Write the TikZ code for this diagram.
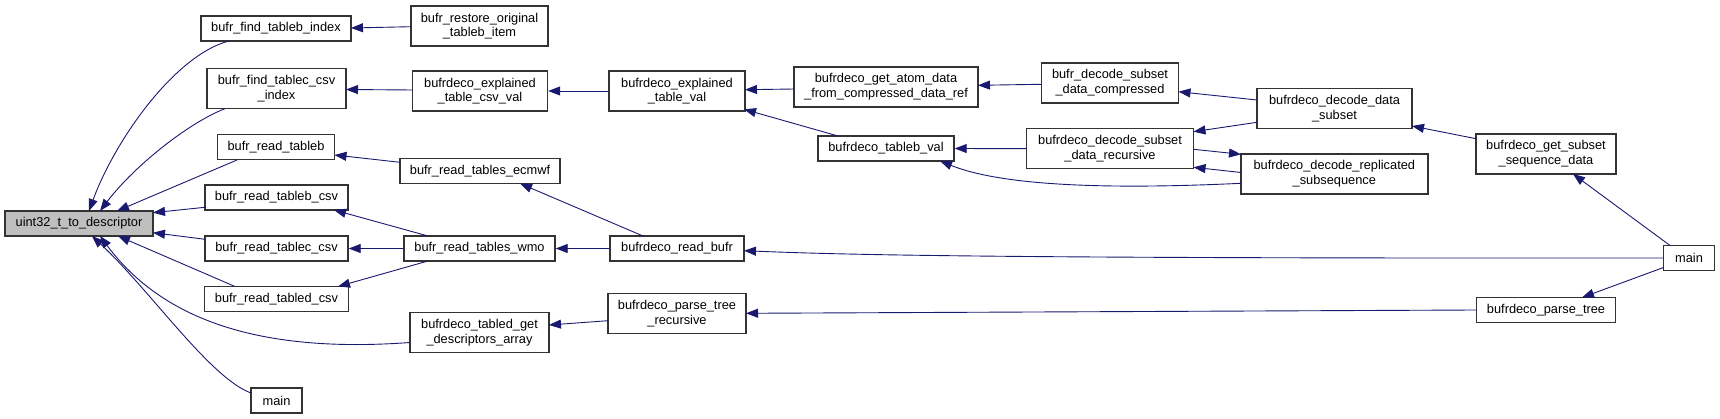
\documentclass[tikz,border=0pt]{standalone}
\usepackage{fontspec}
\setmainfont{Liberation Sans}
\usetikzlibrary{arrows.meta,calc}
\definecolor{edgecol}{HTML}{191970}
\definecolor{nodegrey}{HTML}{BFBFBF}
\definecolor{bordercol}{HTML}{333333}
\begin{document}
\begin{tikzpicture}[x=1pt,y=-1pt,
  box/.style={draw=bordercol, line width=1.4pt, fill=white, inner sep=0pt, align=center,
    font=\fontsize{12.8}{14.7}\selectfont, minimum height=25pt},
  box2/.style={box, minimum height=40pt},
  edge/.style={draw=edgecol, line width=0.9pt, -{Triangle[length=12pt,width=9pt]}},
]
\useasboundingbox (0,0) rectangle (1720,419);

% nodes
\node[box, fill=nodegrey, minimum width=148pt] (uint) at (79,223.5) {uint32\_t\_to\_descriptor};
\node[box, minimum width=150pt] (ftb) at (276,28.5) {bufr\_find\_tableb\_index};
\node[box2, minimum width=137pt] (restore) at (479.5,26) {bufr\_restore\_original\\\_tableb\_item};
\node[box2, minimum width=139pt] (ftc) at (276.5,88.7) {bufr\_find\_tablec\_csv\\\_index};
\node[box2, minimum width=135pt] (etcv) at (480,91) {bufrdeco\_explained\\\_table\_csv\_val};
\node[box, minimum width=117.5pt] (rtb) at (276,147.3) {bufr\_read\_tableb};
\node[box, minimum width=160pt] (ecmwf) at (480,171) {bufr\_read\_tables\_ecmwf};
\node[box, minimum width=143pt] (rtbc) at (276.5,197.5) {bufr\_read\_tableb\_csv};
\node[box, minimum width=143pt] (rtcc) at (276.5,248.5) {bufr\_read\_tablec\_csv};
\node[box, minimum width=151pt] (wmo) at (479.5,248.5) {bufr\_read\_tables\_wmo};
\node[box, minimum width=144pt] (rtdc) at (276.5,299) {bufr\_read\_tabled\_csv};
\node[box2, minimum width=139pt] (tgda) at (479.5,332.7) {bufrdeco\_tabled\_get\\\_descriptors\_array};
\node[box, minimum width=51pt] (mainl) at (276.5,400.5) {main};
\node[box2, minimum width=136pt] (etv) at (677,91) {bufrdeco\_explained\\\_table\_val};
\node[box, minimum width=134pt] (rbufr) at (677,248.5) {bufrdeco\_read\_bufr};
\node[box2, minimum width=138pt] (ptr) at (677,313.7) {bufrdeco\_parse\_tree\\\_recursive};
\node[box2, minimum width=184pt] (atom) at (886,87) {bufrdeco\_get\_atom\_data\\\_from\_compressed\_data\_ref};
\node[box, minimum width=136pt] (tbv) at (886,148.5) {bufrdeco\_tableb\_val};
\node[box2, minimum width=137.5pt] (comp) at (1110,83) {bufr\_decode\_subset\\\_data\_compressed};
\node[box2, minimum width=167pt] (rec) at (1110,148.3) {bufrdeco\_decode\_subset\\\_data\_recursive};
\node[box2, minimum width=155pt] (dds) at (1334.5,108.5) {bufrdeco\_decode\_data\\\_subset};
\node[box2, minimum width=187pt] (repl) at (1334.3,174) {bufrdeco\_decode\_replicated\\\_subsequence};
\node[box2, minimum width=140pt] (gssd) at (1546,154) {bufrdeco\_get\_subset\\\_sequence\_data};
\node[box, minimum width=51pt] (mainr) at (1689,258) {main};
\node[box, minimum width=139pt] (pt) at (1546,310) {bufrdeco\_parse\_tree};

% edges (caller -> callee, arrowhead at callee)
\draw[edge] ($(ftb)+(-47,12.5)$) .. controls (175,55) and (115,140) .. ($(uint)+(10,-12.5)$);
\draw[edge] ($(ftc)+(-51.5,20)$) .. controls (190,122) and (135,165) .. ($(uint)+(21,-12.5)$);
\draw[edge] ($(rtb)+(-39,12.7)$) -- ($(uint)+(38,-12.5)$);
\draw[edge] ($(rtbc)+(-71.5,9.8)$) -- ($(uint)+(74,-10.8)$);
\draw[edge] ($(rtcc)+(-71.5,-9.2)$) -- ($(uint)+(74,9.2)$);
\draw[edge] ($(rtdc)+(-41.5,-12.5)$) -- ($(uint)+(39,12.5)$);
\draw[edge] ($(tgda)+(-69.5,9.8)$) .. controls (280,352) and (170,330) .. ($(uint)+(21,12.5)$);
\draw[edge] ($(mainl)+(-25.5,-7.5)$) .. controls (210,378) and (150,290) .. ($(uint)+(13,12.5)$);
\draw[edge] ($(restore)+(-68.5,0.7)$) -- ($(ftb)+(75,-0.5)$);
\draw[edge] ($(etcv)+(-67.5,-1)$) -- ($(ftc)+(69.5,0.8)$);
\draw[edge] (etv.west) -- (etcv.east);
\draw[edge] ($(atom)+(-92,2)$) -- ($(etv)+(68,-1.3)$);
\draw[edge] ($(tbv)+(-48,-12.5)$) -- ($(etv)+(67,18.3)$);
\draw[edge] ($(comp)+(-69,1.3)$) -- ($(atom)+(92,-1.7)$);
\draw[edge] ($(rec)+(-83.5,0.4)$) -- (tbv.east);
\draw[edge] ($(repl)+(-93.3,9.3)$) .. controls (1100,190) and (1000,185) .. ($(tbv)+(54,12.5)$);
\draw[edge] ($(dds)+(-77.5,-8.5)$) -- ($(comp)+(68.5,8.7)$);
\draw[edge] ($(dds)+(-77.5,13.8)$) -- ($(rec)+(83.5,-16.6)$);
\draw[edge] ($(repl)+(-93.3,-1.5)$) -- ($(rec)+(83.5,19)$);
\draw[edge] ($(rec)+(83.5,1)$) -- ($(repl)+(-93.3,-19.7)$);
\draw[edge] ($(gssd)+(-70,-15.3)$) -- ($(dds)+(77.5,17.5)$);
\draw[edge] ($(mainr)+(-19,-12.5)$) -- ($(gssd)+(27,20)$);
\draw[edge] ($(ecmwf)+(-80,-8.7)$) -- ($(rtb)+(58.5,7.7)$);
\draw[edge] ($(rbufr)+(-34,-12.5)$) -- ($(ecmwf)+(40,12.5)$);
\draw[edge] ($(wmo)+(-51.5,-12.5)$) -- ($(rtbc)+(57.5,12.5)$);
\draw[edge] (wmo.west) -- (rtcc.east);
\draw[edge] ($(wmo)+(-51.5,12.5)$) -- ($(rtdc)+(61.5,-12.5)$);
\draw[edge] (rbufr.west) -- (wmo.east);
\draw[edge] (mainr.west) .. controls (1000,258.5) and (850,255) .. ($(rbufr)+(67,2.2)$);
\draw[edge] ($(ptr)+(-69,7)$) -- ($(tgda)+(69.5,-7.7)$);
\draw[edge] (pt.west) -- ($(ptr)+(69,-0.4)$);
\draw[edge] ($(mainr)+(-25.5,9.5)$) -- ($(pt)+(36,-12.5)$);
\end{tikzpicture}
\end{document}
